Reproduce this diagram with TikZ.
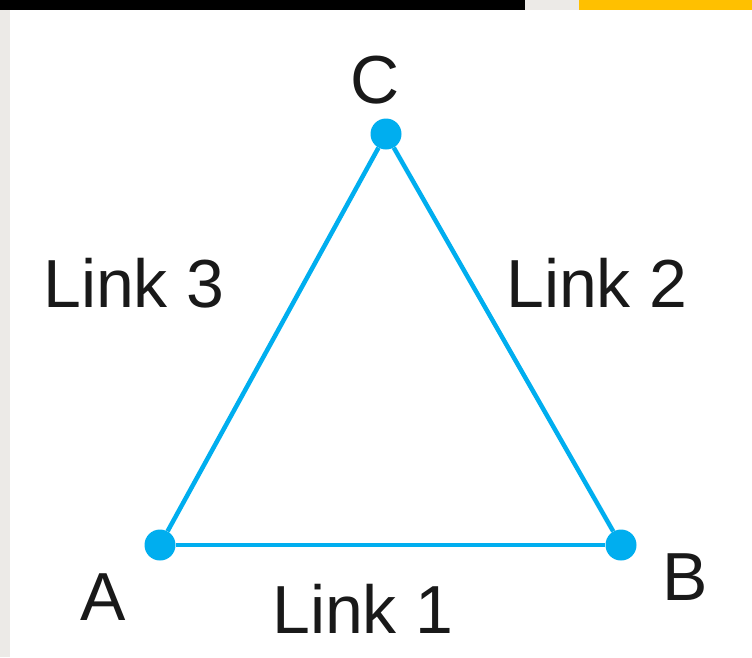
\documentclass[tikz,border=0pt]{standalone}
\usepackage{fontspec}
\setmainfont{Liberation Sans}
\definecolor{linkblue}{HTML}{00AEEF}
\definecolor{topyellow}{HTML}{FFC000}
\definecolor{stripgray}{HTML}{ECEAE7}
\begin{document}
\begin{tikzpicture}[x=1pt,y=-1pt,
  vertex/.style={circle,fill=linkblue,inner sep=0pt,minimum size=31pt},
  edge/.style={draw=linkblue,line width=4.5pt},
  lbl/.style={font=\fontsize{68}{68}\selectfont,text=black!90,inner sep=0pt,anchor=base}]
\useasboundingbox (0,0) rectangle (752,657);
\fill[white] (0,0) rectangle (752,657);
% border artifacts
\fill[black] (0,0) rectangle (525,10);
\fill[stripgray] (525,0) rectangle (579,10);
\fill[topyellow] (579,0) rectangle (752,10);
\fill[stripgray] (0,10) rectangle (10,657);
% vertices
\node[vertex] (A) at (160,545) {};
\node[vertex] (B) at (621,545) {};
\node[vertex] (C) at (386,134) {};
% links
\draw[edge] (A) -- (B);
\draw[edge] (B) -- (C);
\draw[edge] (C) -- (A);
% labels
\node[lbl] (la) at (103,620) {A};
\node[lbl] (lb) at (685,600) {B};
\node[lbl] (lc) at (375,103) {C};
\node[lbl] (l1) at (363,633) {Link 1};
\node[lbl] (l2) at (597,307) {Link 2};
\node[lbl] (l3) at (134,307) {Link 3};
\end{tikzpicture}
\end{document}
